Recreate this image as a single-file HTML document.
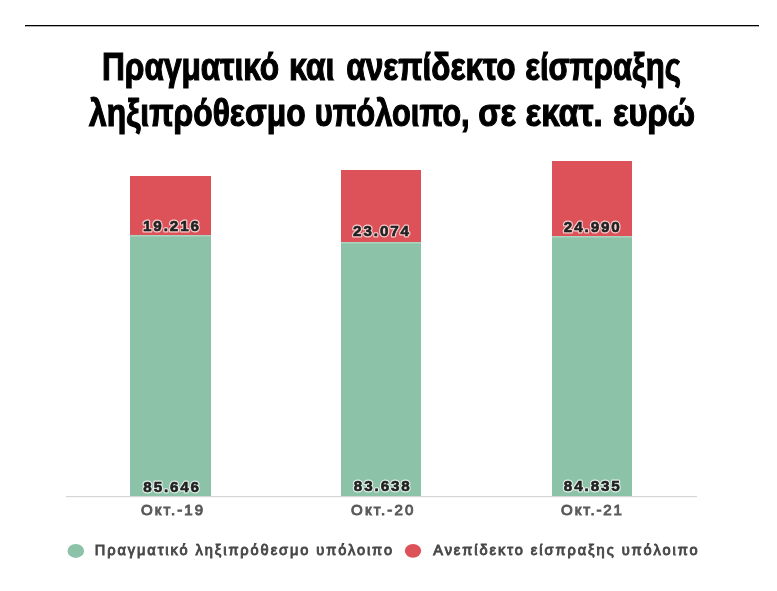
<!DOCTYPE html>
<html><head><meta charset="utf-8">
<style>
html,body{margin:0;padding:0;background:#fff;width:777px;height:591px;overflow:hidden}
svg{display:block;position:absolute;left:0;top:0;will-change:transform;filter:blur(0.35px)}
text{font-family:"Liberation Sans",sans-serif}
</style></head>
<body>
<svg width="777" height="591" viewBox="0 0 777 591">
<rect x="25" y="25" width="734" height="1.3" fill="#000"/>
<g font-weight="bold" font-size="38.5" fill="#000" stroke="#000" stroke-width="1.2" lengthAdjust="spacingAndGlyphs">
<text x="101.97" y="79.6" textLength="177.24" lengthAdjust="spacingAndGlyphs">Πραγματικό</text>
<text x="288.89" y="79.6" textLength="45.61" lengthAdjust="spacingAndGlyphs">και</text>
<text x="346.19" y="79.6" textLength="169.41" lengthAdjust="spacingAndGlyphs">ανεπίδεκτο</text>
<text x="525.19" y="79.6" textLength="155.82" lengthAdjust="spacingAndGlyphs">είσπραξης</text>
<text x="89.00" y="125.6" textLength="216.60" lengthAdjust="spacingAndGlyphs">ληξιπρόθεσμο</text>
<text x="314.76" y="125.6" textLength="154.88" lengthAdjust="spacingAndGlyphs">υπόλοιπο,</text>
<text x="478.17" y="125.6" textLength="37.76" lengthAdjust="spacingAndGlyphs">σε</text>
<text x="525.47" y="125.6" textLength="77.20" lengthAdjust="spacingAndGlyphs">εκατ.</text>
<text x="612.98" y="125.6" textLength="82.14" lengthAdjust="spacingAndGlyphs">ευρώ</text>
</g>
<!-- bars -->
<rect x="130" y="176" width="81" height="59" fill="#dc5258"/>
<rect x="130" y="235" width="81" height="261" fill="#8cc2a7"/>
<rect x="341" y="170" width="80" height="72" fill="#dc5258"/>
<rect x="341" y="242" width="80" height="254" fill="#8cc2a7"/>
<rect x="552" y="161" width="80" height="75" fill="#dc5258"/>
<rect x="552" y="236" width="80" height="260" fill="#8cc2a7"/>
<g fill="#fff" opacity="0.3">
<rect x="130" y="235" width="81" height="1.5"/>
<rect x="341" y="242" width="80" height="1.5"/>
<rect x="552" y="236" width="80" height="1.5"/>
</g>
<rect x="66" y="496" width="631" height="1.2" fill="#d6d6d6"/>
<!-- labels -->
<g font-weight="bold" font-size="15.2" fill="#222" stroke="#fff" stroke-width="3" stroke-opacity="0.7" stroke-linejoin="round">
<text x="142.96" y="230.8" textLength="56.08" lengthAdjust="spacing">19.216</text>
<text x="353.09" y="236.1" textLength="55.91" lengthAdjust="spacing">23.074</text>
<text x="563.79" y="232.3" textLength="56.02" lengthAdjust="spacing">24.990</text>
<text x="143.37" y="491.5" textLength="55.65" lengthAdjust="spacing">85.646</text>
<text x="353.79" y="491.4" textLength="56.02" lengthAdjust="spacing">83.638</text>
<text x="563.77" y="491.4" textLength="56.04" lengthAdjust="spacing">84.835</text>
</g>
<g font-weight="bold" font-size="15.2" fill="#222" stroke="#222" stroke-width="0.6">
<text x="142.96" y="230.8" textLength="56.08" lengthAdjust="spacing">19.216</text>
<text x="353.09" y="236.1" textLength="55.91" lengthAdjust="spacing">23.074</text>
<text x="563.79" y="232.3" textLength="56.02" lengthAdjust="spacing">24.990</text>
<text x="143.37" y="491.5" textLength="55.65" lengthAdjust="spacing">85.646</text>
<text x="353.79" y="491.4" textLength="56.02" lengthAdjust="spacing">83.638</text>
<text x="563.77" y="491.4" textLength="56.04" lengthAdjust="spacing">84.835</text>
</g>
<g font-size="15" fill="#5a5a5a" stroke="#5a5a5a" stroke-width="1.0">
<text x="141.0" y="514.6" textLength="62.0" lengthAdjust="spacing">Окт.-19</text>
<text x="351.1" y="514.6" textLength="62.2" lengthAdjust="spacing">Окт.-20</text>
<text x="561.1" y="514.6" textLength="60.8" lengthAdjust="spacing">Окт.-21</text>
</g>
<!-- legend -->
<ellipse cx="75.8" cy="550.9" rx="8.3" ry="7" fill="#8cc2a7"/>
<ellipse cx="413" cy="550.8" rx="8.2" ry="6.9" fill="#dc5258"/>
<g font-size="14.6" fill="#484848" stroke="#484848" stroke-width="0.9">
<text x="94.8" y="555.2" textLength="297.2" lengthAdjust="spacing">Πραγματικό ληξιπρόθεσμο υπόλοιπο</text>
<text x="433.2" y="555.2" textLength="264.4" lengthAdjust="spacing">Ανεπίδεκτο είσπραξης υπόλοιπο</text>
</g>
</svg>
</body></html>
